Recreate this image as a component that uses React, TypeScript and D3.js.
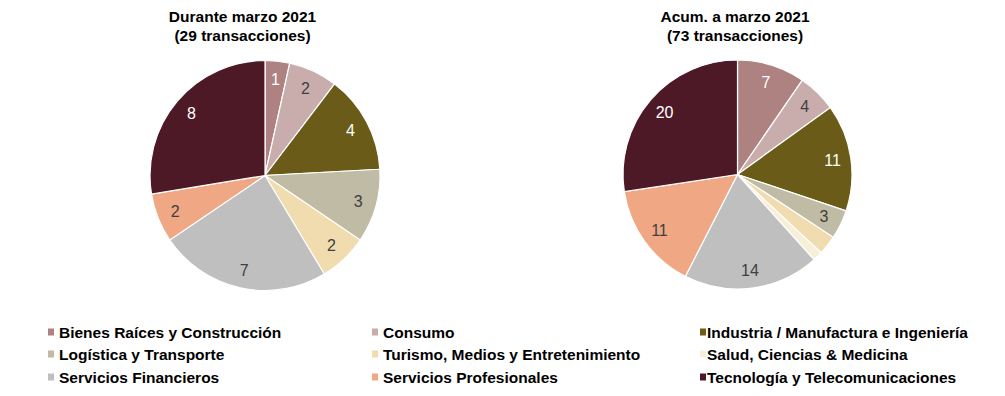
import React from "react";
import * as d3 from "d3";

// categories (legend order = slice order)
const categories = [
  "Bienes Raíces y Construcción",
  "Consumo",
  "Industria / Manufactura e Ingeniería",
  "Logística y  Transporte",
  "Turismo, Medios y Entretenimiento",
  "Salud, Ciencias & Medicina",
  "Servicios Financieros",
  "Servicios Profesionales",
  "Tecnología y Telecomunicaciones",
];

const colors = [
  "#AF8282",
  "#C9ADAD",
  "#6B5B18",
  "#BFBBA4",
  "#F0DCAE",
  "#F8EFD8",
  "#BFBFBF",
  "#EFA784",
  "#4E1927",
];

// dark slices get white labels
const darkSlice = [true, false, true, false, false, false, false, false, true];

const monthValues = [1, 2, 4, 3, 2, 0, 7, 2, 8];
const ytdValues = [7, 4, 11, 3, 2, 1, 14, 11, 20];

// labels hidden on the smallest slices of the ytd pie
const ytdHideLabel = [false, false, false, false, true, true, false, false, false];

const titles = [
  ["Durante marzo 2021", "(29 transacciones)"],
  ["Acum. a marzo 2021", "(73 transacciones)"],
];

const FONT = "Arial, 'Liberation Sans', sans-serif";

function Pie({ values, cx, cy, r, hide, title, titleX }) {
  const pie = d3.pie<number>().sort(null).value(d => d);
  const arcs = pie(values);
  const arc = d3.arc<d3.PieArcDatum<number>>().innerRadius(0).outerRadius(r);
  const labelArc = d3.arc<d3.PieArcDatum<number>>().innerRadius(r * 0.84).outerRadius(r * 0.84);

  return (
    <g>
      <text x={titleX} y={22} textAnchor="middle" fontFamily={FONT} fontWeight="bold" fontSize={15.5} fill="#000">
        {title[0]}
      </text>
      <text x={titleX} y={41} textAnchor="middle" fontFamily={FONT} fontWeight="bold" fontSize={15.5} fill="#000">
        {title[1]}
      </text>
      <g transform={`translate(${cx},${cy})`}>
        {arcs.map((a, i) =>
          a.value > 0 ? (
            <path key={i} d={arc(a) || ""} fill={colors[i]} stroke="#fff" strokeWidth={1.2} />
          ) : null
        )}
        {arcs.map((a, i) => {
          if (a.value <= 0 || (hide && hide[i])) return null;
          const [x, y] = labelArc.centroid(a);
          return (
            <text
              key={"l" + i}
              x={x}
              y={y}
              dy="0.36em"
              textAnchor="middle"
              fontFamily={FONT}
              fontSize={16}
              fill={darkSlice[i] ? "#fff" : "#404040"}
            >
              {a.value}
            </text>
          );
        })}
      </g>
    </g>
  );
}

export default function App() {
  const width = 1005;
  const height = 396;

  const colX = [48, 372, 700];
  const textX = [59, 383, 707];
  const rowY = [332, 354, 377];

  return (
    <svg width={width} height={height} style={{ position: "absolute", left: 0, top: 0, background: "#fff" }}>
      <rect width={width} height={height} fill="#fff" />
      <Pie values={monthValues} cx={265} cy={175.5} r={115} hide={null} title={titles[0]} titleX={242.5} />
      <Pie values={ytdValues} cx={737.5} cy={174.5} r={114.5} hide={ytdHideLabel} title={titles[1]} titleX={735} />

      {categories.map((c, i) => {
        const col = i % 3;
        const row = Math.floor(i / 3);
        return (
          <g key={c}>
            <rect x={colX[col]} y={rowY[row] - 3.5} width={6} height={7} fill={colors[i]} />
            <text
              x={textX[col]}
              y={rowY[row]}
              dy="0.36em"
              fontFamily={FONT}
              fontWeight="bold"
              fontSize={15.5}
              fill="#000"
            >
              {c}
            </text>
          </g>
        );
      })}
    </svg>
  );
}
